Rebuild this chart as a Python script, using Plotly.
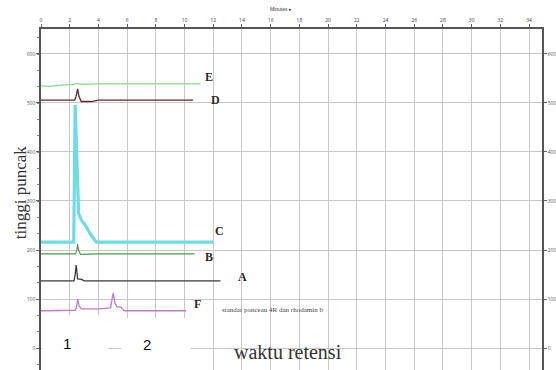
import plotly.graph_objects as go

# Retention time (minutes) and peak height for each chromatogram
E_t = [0.0, 0.6, 1.2, 1.8, 2.3, 2.55, 2.8, 4.0, 6.0, 8.0, 9.5, 10.5, 11.1]
E_h = [535, 534, 536, 537, 538, 540, 538, 539, 539, 539, 538, 539, 539]

D_t = [0.0, 1.5, 2.35, 2.45, 2.55, 2.65, 2.8, 3.5, 4.0, 6.0, 8.0, 10.6]
D_h = [506, 506, 506, 514, 529, 513, 503, 503, 506, 506, 506, 506]

C_t = [0.0, 1.5, 2.28, 2.38, 2.5, 2.62, 2.8, 3.1, 3.45, 3.85, 6.0, 9.0, 12.0]
C_h = [216, 216, 216, 496, 380, 275, 262, 250, 232, 216, 216, 216, 216]

B_t = [0.0, 1.5, 2.4, 2.5, 2.55, 2.62, 2.75, 4.0, 7.0, 10.7]
B_h = [192, 192, 192, 200, 212, 200, 191, 192, 192, 192]

A_t = [0.0, 1.5, 2.3, 2.38, 2.45, 2.55, 2.83, 3.0, 6.0, 9.0, 12.5]
A_h = [137, 137, 137, 150, 169, 141, 140, 137, 137, 137, 137]

F_t = [0.0, 1.5, 2.4, 2.5, 2.56, 2.65, 2.8, 4.0, 4.85, 4.95, 5.03, 5.15, 5.3, 5.55, 5.8, 7.0, 8.5, 10.1]
F_h = [76, 76, 77, 88, 100, 86, 80, 80, 82, 100, 112, 92, 84, 84, 76, 76, 76, 76]

series = [
    ("E", E_t, E_h, "#8ad88a", 1.3),
    ("D", D_t, D_h, "#5e2a33", 1.3),
    ("C", C_t, C_h, "#6cdde2", 3.2),
    ("B", B_t, B_h, "#4f9a4f", 1.1),
    ("A", A_t, A_h, "#3b3b3b", 1.3),
    ("F", F_t, F_h, "#c57ac5", 1.3),
]

# label placement (time, height) for each curve tag
label_t = {"E": 11.3, "D": 11.7, "C": 12.0, "B": 11.3, "A": 13.6, "F": 10.5}
label_h = {"E": 553, "D": 506, "C": 238, "B": 186, "A": 145, "F": 90}

x_ticks = list(range(0, 35, 2))
y_ticks = [0, 100, 200, 300, 400, 500, 600]

fig = go.Figure()
for name, t, h, col, w in series:
    fig.add_trace(go.Scatter(x=t, y=h, mode="lines", name=name,
                             line=dict(color=col, width=w), showlegend=False))
    fig.add_annotation(x=label_t[name], y=label_h[name], text="<b>%s</b>" % name,
                       showarrow=False, xanchor="left",
                       font=dict(family="Liberation Serif", size=12, color="#2a2a2a"))

# right-hand axis carrying the same scale
fig.add_trace(go.Scatter(x=[None], y=[None], yaxis="y2", showlegend=False))

fig.update_layout(
    width=556, height=370,
    margin=dict(l=41, r=9, t=29, b=0),
    paper_bgcolor="white", plot_bgcolor="white",
    xaxis=dict(side="top", range=[0, 34.9], tickvals=x_ticks,
               showgrid=True, gridcolor="#c8c8c8", gridwidth=1,
               showline=True, linecolor="#555", linewidth=1.5,
               ticks="outside", ticklen=3, tickcolor="#666",
               tickfont=dict(size=5, color="#444"), zeroline=False),
    yaxis=dict(range=[-44.9, 651], tickvals=y_ticks,
               showgrid=True, gridcolor="#c8c8c8", gridwidth=1,
               showline=True, linecolor="#555", linewidth=1.5,
               ticks="outside", ticklen=3, tickcolor="#666",
               tickfont=dict(size=5, color="#555"), zeroline=False,
               minor=dict(dtick=33.33, ticks="outside", ticklen=2, tickcolor="#888")),
    yaxis2=dict(range=[-44.9, 651], tickvals=y_ticks, overlaying="y", side="right",
                showgrid=False, showline=True, linecolor="#555", linewidth=1.5,
                ticks="outside", ticklen=3, tickcolor="#666",
                tickfont=dict(size=5, color="#555"), zeroline=False),
)


def px_x(p):
    return (p - 41) / 506


def px_y(p):
    return (370 - p) / 341


def caption(x, y, text, size, family="Liberation Serif", color="#333", angle=0):
    fig.add_annotation(xref="paper", yref="paper", x=px_x(x), y=px_y(y),
                       xanchor="center", yanchor="middle", text=text,
                       textangle=angle, showarrow=False,
                       font=dict(family=family, size=size, color=color))


# axis captions
caption(20, 192, "tinggi puncak", 17, angle=-90)
caption(283, 9, "Minutes ▸", 5, family="Liberation Sans")
fig.add_annotation(x=12.5, y=78, text="standar ponceau 4R dan rhodamin b",
                   xanchor="left", showarrow=False,
                   font=dict(family="Liberation Serif", size=7, color="#444"))

# white cover panels with sample numbers
for x0, x1, y1 in [(42, 109, 315), (122, 192, 318)]:
    fig.add_shape(type="rect", xref="paper", yref="paper", layer="above",
                  x0=px_x(x0), x1=px_x(x1), y0=0, y1=px_y(y1),
                  fillcolor="white", line=dict(width=0))
caption(67, 343, "1", 15, family="Liberation Sans", color="#111")
caption(148, 344, "2", 15, family="Liberation Sans", color="#111")
caption(290, 352, "waktu retensi", 20)

fig.write_html("out.html")
